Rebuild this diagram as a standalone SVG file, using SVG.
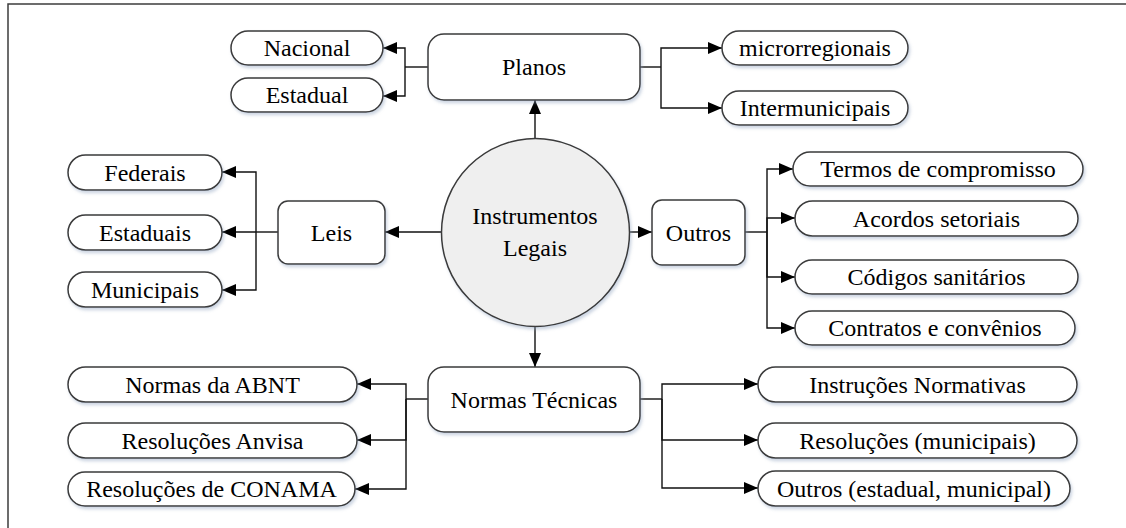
<svg xmlns="http://www.w3.org/2000/svg" width="1126" height="528" viewBox="0 0 1126 528">
  <defs>
    <filter id="shadow" x="-10%" y="-20%" width="130%" height="160%">
      <feDropShadow dx="1.5" dy="2.5" stdDeviation="1.8" flood-color="#8fa3c0" flood-opacity="0.45"/>
    </filter>
    <marker id="arrow" markerUnits="userSpaceOnUse" markerWidth="14" markerHeight="12" refX="14" refY="6" orient="auto">
      <path d="M0,0 L14,6 L0,12 z" fill="#000"/>
    </marker>
    <style>
      .box { fill: #ffffff; stroke: #3a3a3a; stroke-width: 1.5; filter: url(#shadow); }
      .hub { fill: #efefef; stroke: #3a3a3a; stroke-width: 1.5; filter: url(#shadow); }
      text { font-family: Liberation Serif, DejaVu Serif, serif; font-size: 24px; fill: #000; text-anchor: middle; }
      .wire { fill: none; stroke: #111; stroke-width: 1.4; }
      .wire-a { fill: none; stroke: #111; stroke-width: 1.4; marker-end: url(#arrow); }
    </style>
  </defs>

  <!-- outer frame (only top and left edges fall inside the canvas) -->
  <rect x="8" y="4" width="1140" height="540" fill="#ffffff" stroke="#3c3c3c" stroke-width="1.5"/>

  <!-- connectors -->
  <g id="connectors">
    <!-- from the central hub -->
    <path class="wire-a" d="M535,138 V100"/>
    <path class="wire-a" d="M442,232 H385"/>
    <path class="wire-a" d="M629,232 H652"/>
    <path class="wire-a" d="M535,327 V367"/>

    <!-- Planos branches -->
    <path class="wire" d="M428,67 H405"/>
    <path class="wire-a" d="M405,67 V48 H383"/>
    <path class="wire-a" d="M405,67 V96 H383"/>
    <path class="wire" d="M640,67 H661"/>
    <path class="wire-a" d="M661,67 V48 H722"/>
    <path class="wire-a" d="M661,67 V108 H722"/>

    <!-- Leis branches -->
    <path class="wire" d="M278,232 H256"/>
    <path class="wire-a" d="M256,232 V172 H222"/>
    <path class="wire-a" d="M256,232 H222"/>
    <path class="wire-a" d="M256,232 V290 H222"/>

    <!-- Outros branches -->
    <path class="wire" d="M745,232 H767"/>
    <path class="wire-a" d="M767,232 V169 H793"/>
    <path class="wire-a" d="M767,232 V218 H795"/>
    <path class="wire-a" d="M767,232 V277 H795"/>
    <path class="wire-a" d="M767,232 V328 H795"/>

    <!-- Normas Técnicas branches -->
    <path class="wire" d="M428,399 H406"/>
    <path class="wire-a" d="M406,399 V384 H357"/>
    <path class="wire-a" d="M406,399 V440 H357"/>
    <path class="wire-a" d="M406,399 V489 H355"/>
    <path class="wire" d="M640,399 H662"/>
    <path class="wire-a" d="M662,399 V384 H758"/>
    <path class="wire-a" d="M662,399 V440 H758"/>
    <path class="wire-a" d="M662,399 V488 H758"/>
  </g>

  <!-- central hub -->
  <g id="instrumentos">
    <circle class="hub" cx="535.5" cy="232.5" r="94"/>
    <text x="535" y="224">Instrumentos</text>
    <text x="535" y="256">Legais</text>
  </g>

  <!-- Planos -->
  <g id="planos">
    <rect class="box" x="428" y="34" width="212" height="66" rx="16"/>
    <text x="534" y="75">Planos</text>
  </g>
  <g id="nacional">
    <rect class="box" x="231" y="31" width="152" height="34" rx="17"/>
    <text x="307" y="56">Nacional</text>
  </g>
  <g id="estadual">
    <rect class="box" x="231" y="78" width="152" height="34" rx="17"/>
    <text x="307" y="103">Estadual</text>
  </g>
  <g id="microrregionais">
    <rect class="box" x="722" y="31" width="186" height="34" rx="17"/>
    <text x="815" y="56">microrregionais</text>
  </g>
  <g id="intermunicipais">
    <rect class="box" x="722" y="91" width="186" height="34" rx="17"/>
    <text x="815" y="116">Intermunicipais</text>
  </g>

  <!-- Leis -->
  <g id="leis">
    <rect class="box" x="278" y="201" width="107" height="63" rx="10"/>
    <text x="331.5" y="241">Leis</text>
  </g>
  <g id="federais">
    <rect class="box" x="68" y="155" width="154" height="35" rx="17.5"/>
    <text x="145" y="181">Federais</text>
  </g>
  <g id="estaduais">
    <rect class="box" x="68" y="215" width="154" height="35" rx="17.5"/>
    <text x="145" y="241">Estaduais</text>
  </g>
  <g id="municipais">
    <rect class="box" x="68" y="272" width="154" height="35" rx="17.5"/>
    <text x="145" y="298">Municipais</text>
  </g>

  <!-- Outros -->
  <g id="outros">
    <rect class="box" x="652" y="200" width="93" height="65" rx="10"/>
    <text x="698.5" y="241">Outros</text>
  </g>
  <g id="termos">
    <rect class="box" x="793" y="152" width="290" height="34" rx="17"/>
    <text x="938" y="177">Termos de compromisso</text>
  </g>
  <g id="acordos">
    <rect class="box" x="795" y="201" width="283" height="35" rx="17.5"/>
    <text x="936.5" y="227">Acordos setoriais</text>
  </g>
  <g id="codigos">
    <rect class="box" x="795" y="260" width="283" height="34" rx="17"/>
    <text x="936.5" y="285">Códigos sanitários</text>
  </g>
  <g id="contratos">
    <rect class="box" x="795" y="311" width="280" height="34" rx="17"/>
    <text x="935" y="336">Contratos e convênios</text>
  </g>

  <!-- Normas Técnicas -->
  <g id="normas-tecnicas">
    <rect class="box" x="428" y="367" width="212" height="65" rx="16"/>
    <text x="534" y="408">Normas Técnicas</text>
  </g>
  <g id="abnt">
    <rect class="box" x="68" y="367" width="289" height="35" rx="17.5"/>
    <text x="212.5" y="393">Normas da ABNT</text>
  </g>
  <g id="anvisa">
    <rect class="box" x="68" y="423" width="289" height="35" rx="17.5"/>
    <text x="212.5" y="449">Resoluções Anvisa</text>
  </g>
  <g id="conama">
    <rect class="box" x="68" y="472" width="287" height="34" rx="17"/>
    <text x="211.5" y="497">Resoluções de CONAMA</text>
  </g>
  <g id="instrucoes">
    <rect class="box" x="758" y="367" width="319" height="35" rx="17.5"/>
    <text x="917.5" y="393">Instruções Normativas</text>
  </g>
  <g id="resolucoes-mun">
    <rect class="box" x="758" y="423" width="319" height="35" rx="17.5"/>
    <text x="917.5" y="449">Resoluções (municipais)</text>
  </g>
  <g id="outros-est-mun">
    <rect class="box" x="758" y="471" width="312" height="35" rx="17.5"/>
    <text x="914" y="497">Outros (estadual, municipal)</text>
  </g>
</svg>
